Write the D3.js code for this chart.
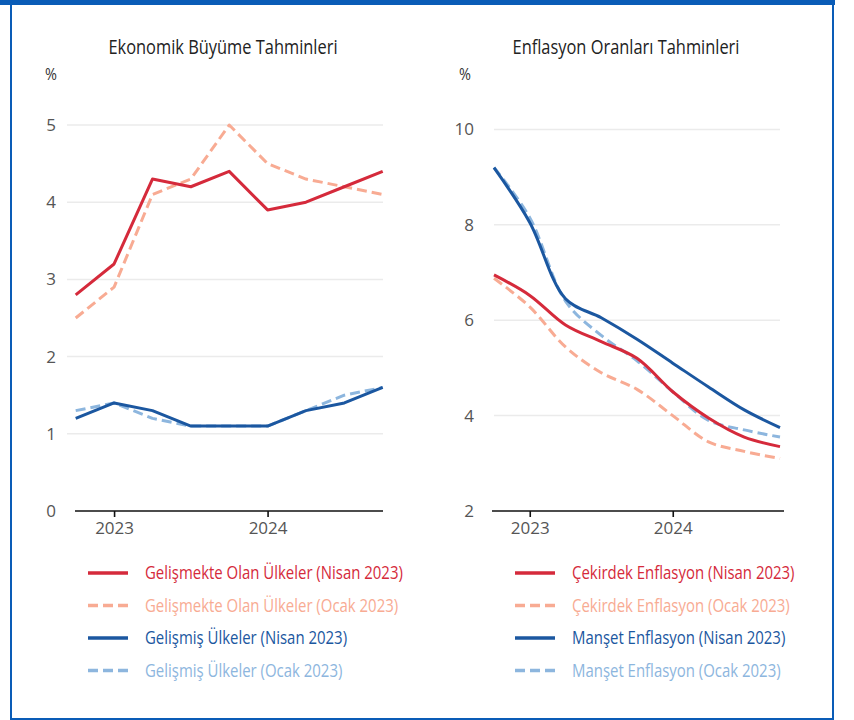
<!DOCTYPE html>
<html>
<head>
<meta charset="utf-8">
<script src="https://cdn.jsdelivr.net/npm/d3@7"></script>
<style>
  body { margin: 0; background: #fff; }
  text { font-family: "Open Sans", "Noto Sans", sans-serif; }
</style>
</head>
<body>
<div id="chart"></div>
<script>
// data (quarterly, 2022 Q4 .. 2024 Q4)
const quarters = [2022.75, 2023, 2023.25, 2023.5, 2023.75, 2024, 2024.25, 2024.5, 2024.75];
const yearTicks = [2023, 2024];

const growthEmergingApr = [2.8, 3.2, 4.3, 4.2, 4.4, 3.9, 4.0, 4.2, 4.4];
const growthEmergingJan = [2.5, 2.9, 4.1, 4.3, 5.0, 4.5, 4.3, 4.2, 4.1];
const growthAdvancedApr = [1.2, 1.4, 1.3, 1.1, 1.1, 1.1, 1.3, 1.4, 1.6];
const growthAdvancedJan = [1.3, 1.4, 1.2, 1.1, 1.1, 1.1, 1.3, 1.5, 1.6];
const growthTicks = [0, 1, 2, 3, 4, 5];

const coreInflApr = [6.95, 6.52, 5.9, 5.55, 5.2, 4.5, 3.95, 3.55, 3.35];
const coreInflJan = [6.88, 6.28, 5.44, 4.9, 4.55, 4.0, 3.45, 3.25, 3.1];
const headlineInflApr = [9.2, 8.05, 6.45, 6.05, 5.6, 5.1, 4.6, 4.12, 3.75];
const headlineInflJan = [9.2, 8.15, 6.4, 5.68, 5.15, 4.5, 3.9, 3.7, 3.55];
const inflTicks = [2, 4, 6, 8, 10];

const growthLabels = ["Gelişmekte Olan Ülkeler (Nisan 2023)", "Gelişmekte Olan Ülkeler (Ocak 2023)",
                      "Gelişmiş Ülkeler (Nisan 2023)", "Gelişmiş Ülkeler (Ocak 2023)"];
const inflLabels = ["Çekirdek Enflasyon (Nisan 2023)", "Çekirdek Enflasyon (Ocak 2023)",
                    "Manşet Enflasyon (Nisan 2023)", "Manşet Enflasyon (Ocak 2023)"];

const red = "#d52a3b", salmon = "#f8ab93", navy = "#1b57a0", sky = "#8db6de";
const frameBlue = "#0a5cb7";

const svg = d3.select("#chart").append("svg")
    .attr("width", 854)
    .attr("height", 720);

// frame
svg.append("rect").attr("x", 0).attr("y", 0).attr("width", 835).attr("height", 5).attr("fill", frameBlue);
svg.append("rect").attr("x", 10).attr("y", 5).attr("width", 2).attr("height", 715).attr("fill", frameBlue);
svg.append("rect").attr("x", 832).attr("y", 5).attr("width", 2).attr("height", 715).attr("fill", frameBlue);
svg.append("rect").attr("x", 10).attr("y", 718).attr("width", 824).attr("height", 2).attr("fill", frameBlue);

// squeeze text horizontally to imitate the condensed face of the original
function condense(sel, k) {
    sel.each(function() {
        const w = this.getComputedTextLength();
        d3.select(this).attr("textLength", w * k).attr("lengthAdjust", "spacingAndGlyphs");
    });
}

function panel(opt) {
    const x = d3.scaleLinear().domain([quarters[0], quarters[quarters.length - 1]]).range(opt.xRange);
    const y = d3.scaleLinear().domain(opt.yDomain).range([511, opt.yTop]);
    const g = svg.append("g");

    // title
    const t = g.append("text")
        .attr("x", opt.titleX).attr("y", 54)
        .attr("text-anchor", "middle")
        .attr("font-size", 20.5)
        .attr("fill", "#222")
        .text(opt.title);
    condense(t, 0.8);

    const p = g.append("text")
        .attr("x", opt.pctX).attr("y", 80)
        .attr("font-size", 17)
        .attr("fill", "#333")
        .text("%");
    condense(p, 0.85);

    // grid lines (skip the baseline, which is the axis)
    g.selectAll(".grid").data(opt.ticks.slice(1)).enter().append("line")
        .attr("x1", opt.gridX[0]).attr("x2", opt.gridX[1])
        .attr("y1", d => y(d)).attr("y2", d => y(d))
        .attr("stroke", "#ebebeb").attr("stroke-width", 1.5);

    // y labels
    g.selectAll(".ylab").data(opt.ticks).enter().append("text")
        .attr("x", opt.labelX).attr("y", d => y(d))
        .attr("dy", "0.35em")
        .attr("text-anchor", "end")
        .attr("font-size", 17)
        .attr("fill", "#555")
        .text(d => d);

    // x axis
    const ax = g.append("g")
        .attr("transform", "translate(0,511)")
        .call(d3.axisBottom(x).tickValues(yearTicks).tickFormat(d3.format("d")).tickSize(6).tickPadding(5));
    ax.select(".domain").attr("d", `M${opt.axisX[0]},0H${opt.axisX[1]}`).attr("stroke", "#111").attr("stroke-width", 1.6);
    ax.selectAll(".tick line").attr("stroke", "#111").attr("stroke-width", 1.6);
    ax.selectAll(".tick text").attr("font-size", 17).attr("fill", "#555")
        .attr("font-family", "\"Open Sans\", sans-serif");

    const line = d3.line()
        .x((d, i) => x(quarters[i]))
        .y(d => y(d))
        .curve(opt.curve);

    opt.series.forEach(s => {
        g.append("path")
            .datum(s.values)
            .attr("d", line)
            .attr("fill", "none")
            .attr("stroke", s.color)
            .attr("stroke-width", 3)
            .attr("stroke-dasharray", s.dash ? "10,5" : null)
            .attr("stroke-linejoin", "round");
    });

    // legend
    opt.legend.forEach((s, i) => {
        const ly = 573 + i * 32.5;
        g.append("line")
            .attr("x1", opt.legendX).attr("x2", opt.legendX + 40)
            .attr("y1", ly).attr("y2", ly)
            .attr("stroke", s.color).attr("stroke-width", 3.5)
            .attr("stroke-dasharray", s.dash ? "10,5" : null);
        const lt = g.append("text")
            .attr("x", opt.legendX + 57).attr("y", ly)
            .attr("dy", "0.35em")
            .attr("font-size", 18)
            .attr("fill", s.color)
            .text(s.label);
        condense(lt, 0.83);
    });
}

panel({
    title: "Ekonomik Büyüme Tahminleri",
    titleX: 223, pctX: 45, labelX: 56,
    xRange: [75.7, 382.7], yDomain: [0, 5], yTop: 125,
    gridX: [67, 383], axisX: [75, 383],
    ticks: growthTicks,
    curve: d3.curveLinear,
    legendX: 88,
    series: [
        { values: growthEmergingJan, color: salmon, dash: true },
        { values: growthAdvancedJan, color: sky, dash: true },
        { values: growthEmergingApr, color: red, dash: false },
        { values: growthAdvancedApr, color: navy, dash: false }
    ],
    legend: [
        { label: growthLabels[0], color: red, dash: false },
        { label: growthLabels[1], color: salmon, dash: true },
        { label: growthLabels[2], color: navy, dash: false },
        { label: growthLabels[3], color: sky, dash: true }
    ]
});

panel({
    title: "Enflasyon Oranları Tahminleri",
    titleX: 626, pctX: 459, labelX: 474,
    xRange: [494, 780], yDomain: [2, 10], yTop: 129.4,
    gridX: [494, 780], axisX: [492, 784],
    ticks: inflTicks,
    curve: d3.curveCatmullRom.alpha(0.5),
    legendX: 515,
    series: [
        { values: coreInflJan, color: salmon, dash: true },
        { values: headlineInflJan, color: sky, dash: true },
        { values: headlineInflApr, color: navy, dash: false },
        { values: coreInflApr, color: red, dash: false }
    ],
    legend: [
        { label: inflLabels[0], color: red, dash: false },
        { label: inflLabels[1], color: salmon, dash: true },
        { label: inflLabels[2], color: navy, dash: false },
        { label: inflLabels[3], color: sky, dash: true }
    ]
});
</script>
</body>
</html>
